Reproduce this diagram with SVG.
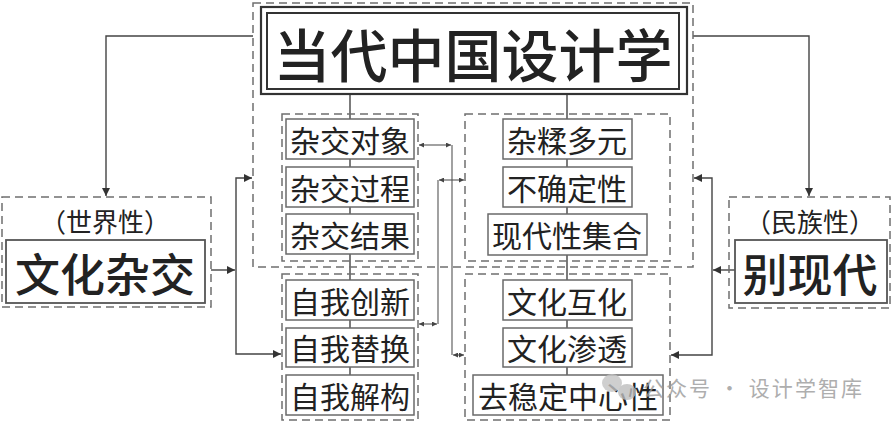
<svg xmlns="http://www.w3.org/2000/svg" width="892" height="422" viewBox="0 0 892 422">
<style>
text{font-family:"Noto Sans CJK SC","Noto Sans",sans-serif;fill:#222;text-anchor:middle;dominant-baseline:central}
.dash{fill:none;stroke:#6f6f6f;stroke-width:1.5;stroke-dasharray:8 5}
.box{fill:#fff;stroke:#6a6a6a;stroke-width:1.5}
.sub{font-size:30px}
.big{font-size:45px;font-weight:500}
.par{font-size:26px}
.ln{fill:none;stroke:#444;stroke-width:1.4}
.ln2{fill:none;stroke:#555;stroke-width:1.1}
.wm{font-size:20px;fill:#9a9a9a;text-anchor:start}
</style>
<defs>
<marker id="ah" viewBox="0 0 10 10" refX="10" refY="5" markerWidth="8" markerHeight="8" markerUnits="userSpaceOnUse" orient="auto-start-reverse"><path d="M0,0 L10,5 L0,10 z" fill="#333"/></marker>
<marker id="as" viewBox="0 0 10 10" refX="10" refY="5" markerWidth="5" markerHeight="5" markerUnits="userSpaceOnUse" orient="auto-start-reverse"><path d="M0,0 L10,5 L0,10 z" fill="#444"/></marker>
</defs>
<rect width="892" height="422" fill="#fff"/>

<g id="connectors">
<path class="ln" d="M350,94 V375"/>
<path class="ln" d="M567,94 V375"/>
<path class="ln" d="M253,36 H106 V196" marker-end="url(#ah)"/>
<path class="ln" d="M693,36 H809 V196" marker-end="url(#ah)"/>
<path class="ln" d="M211,270 H235" marker-end="url(#ah)"/>
<path class="ln" d="M236,270 V178 H252" marker-end="url(#ah)"/>
<path class="ln" d="M236,270 V354 H281" marker-end="url(#ah)"/>
<path class="ln" d="M735,270 H713" marker-end="url(#ah)"/>
<path class="ln" d="M712,270 V178 H694" marker-end="url(#ah)"/>
<path class="ln" d="M712,270 V355 H671" marker-end="url(#ah)"/>
<path class="ln2" d="M452,145 V355"/>
<path class="ln2" d="M419,145 H451" marker-start="url(#as)" marker-end="url(#as)"/>
<path class="ln2" d="M453,355 H464" marker-start="url(#as)" marker-end="url(#as)"/>
<path class="ln2" d="M438,180 V324"/>
<path class="ln2" d="M439,180 H464" marker-start="url(#as)" marker-end="url(#as)"/>
<path class="ln2" d="M419,324 H437" marker-start="url(#as)" marker-end="url(#as)"/>
</g>

<g id="core">
<rect class="dash" x="253" y="3" width="440" height="264"/>
<rect x="261" y="7" width="426" height="87" fill="#fff" stroke="#333" stroke-width="2.2"/>
<rect x="267" y="13" width="412" height="76" fill="none" stroke="#333" stroke-width="2"/>
<text x="473" y="52" style="font-size:57px;font-weight:500">当代中国设计学</text>
</g>

<g id="hybrid-group">
<rect class="dash" x="282" y="114" width="136" height="147"/>
<g id="n-object"><rect class="box" x="286" y="119" width="128" height="40"/><text class="sub" x="350" y="139">杂交对象</text></g>
<g id="n-process"><rect class="box" x="286" y="167" width="128" height="40"/><text class="sub" x="350" y="187">杂交过程</text></g>
<g id="n-result"><rect class="box" x="286" y="214" width="128" height="40"/><text class="sub" x="350" y="234">杂交结果</text></g>
</g>

<g id="mix-group">
<rect class="dash" x="465" y="114" width="205" height="147"/>
<g id="n-mix"><rect class="box" x="503" y="119" width="129" height="40"/><text class="sub" x="567" y="139">杂糅多元</text></g>
<g id="n-uncertain"><rect class="box" x="503" y="167" width="129" height="40"/><text class="sub" x="567" y="187">不确定性</text></g>
<g id="n-modernity"><rect class="box" x="488" y="214" width="159" height="41"/><text class="sub" x="567" y="234">现代性集合</text></g>
</g>

<g id="self-group">
<rect class="dash" x="282" y="274" width="136" height="146"/>
<g id="n-innovate"><rect class="box" x="286" y="280" width="128" height="40"/><text class="sub" x="350" y="300">自我创新</text></g>
<g id="n-replace"><rect class="box" x="286" y="328" width="128" height="39"/><text class="sub" x="350" y="347">自我替换</text></g>
<g id="n-deconstruct"><rect class="box" x="286" y="375" width="128" height="40"/><text class="sub" x="350" y="395">自我解构</text></g>
</g>

<g id="culture-group">
<rect class="dash" x="465" y="274" width="205" height="146"/>
<g id="n-mutual"><rect class="box" x="503" y="280" width="129" height="40"/><text class="sub" x="567" y="300">文化互化</text></g>
<g id="n-permeate"><rect class="box" x="503" y="328" width="129" height="39"/><text class="sub" x="567" y="347">文化渗透</text></g>
<g id="n-decenter"><rect class="box" x="473" y="375" width="190" height="40"/><text class="sub" x="568" y="395">去稳定中心性</text></g>
</g>

<g id="n-world">
<rect class="dash" x="2" y="197" width="209" height="110"/>
<text class="par" x="105" y="220">（世界性）</text>
<rect x="6" y="240" width="199" height="63" fill="#fff" stroke="#555" stroke-width="1.8"/>
<text class="big" x="105" y="272">文化杂交</text>
</g>

<g id="n-national">
<rect class="dash" x="729" y="197" width="161" height="111"/>
<text class="par" x="810" y="220">（民族性）</text>
<rect x="735" y="240" width="152" height="63" fill="#fff" stroke="#555" stroke-width="1.8"/>
<text class="big" x="810" y="272">别现代</text>
</g>

<g id="watermark" opacity="0.8">
<ellipse cx="612" cy="383" rx="10" ry="9" fill="#c4c4c4"/>
<ellipse cx="627" cy="392" rx="9" ry="8" fill="#bdbdbd"/>
<text class="wm" x="643" y="387" style="font-size:21px" textLength="219" lengthAdjust="spacing">公众号 · 设计学智库</text>
</g>
</svg>
